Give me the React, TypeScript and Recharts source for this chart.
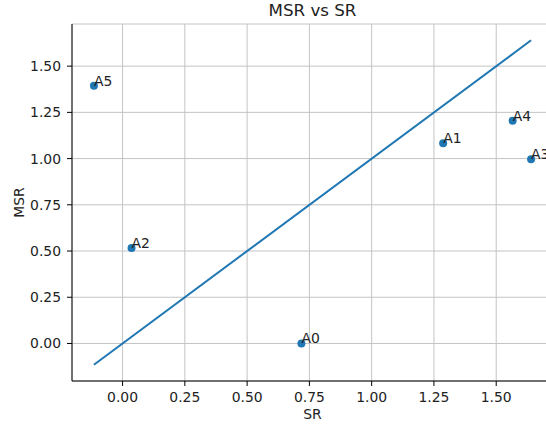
import React from 'react';
import {
  ScatterChart, Scatter, XAxis, YAxis, CartesianGrid
} from 'recharts';

const pointNames = ['A0', 'A1', 'A2', 'A3', 'A4', 'A5'];
const srValues = [0.718, 1.287, 0.036, 1.64, 1.566, -0.115];
const msrValues = [0.0, 1.083, 0.516, 0.997, 1.205, 1.394];

const lineSr = [-0.115, 1.64];
const lineMsr = [-0.115, 1.64];

const tickValues = [0, 0.25, 0.5, 0.75, 1.0, 1.25, 1.5];
const axisDomain: [number, number] = [-0.203, 1.728];

const points = pointNames.map((name, i) => ({ name, x: srValues[i], y: msrValues[i] }));
const diagonal = lineSr.map((x, i) => ({ x, y: lineMsr[i] }));

const blue = '#1f77b4';
const textColor = '#222';
const font = '"DejaVu Sans", sans-serif';

const PointWithLabel = (props: any) => {
  const { cx, cy, payload } = props;
  return (
    <g>
      <circle cx={cx} cy={cy} r={4} fill={blue} />
      <text x={cx} y={cy} fontSize={13.9} fill={textColor} fontFamily={font}>
        {payload.name}
      </text>
    </g>
  );
};

export default function App() {
  const tickStyle = { fill: textColor, fontSize: 13.9, fontFamily: font };
  return (
    <div style={{ position: 'absolute', left: 0, top: 0, width: 546, height: 427, overflow: 'hidden', background: '#fff' }}>
      <div
        style={{
          position: 'absolute', left: 72, top: 0, width: 481, lineHeight: '20px',
          textAlign: 'center', fontSize: 16.7, fontFamily: font, color: textColor
        }}
      >
        MSR vs SR
      </div>
      <ScatterChart width={553} height={427} margin={{ top: 24, right: 0, bottom: 0, left: 0 }}>
        <CartesianGrid stroke="#c4c4c4" strokeWidth={1} />
        <XAxis
          dataKey="x"
          type="number"
          domain={axisDomain}
          ticks={tickValues}
          allowDataOverflow
          height={46}
          tickSize={5}
          tickMargin={6}
          tick={tickStyle}
          tickLine={{ stroke: '#000' }}
          axisLine={{ stroke: '#000' }}
          tickFormatter={(v: number) => v.toFixed(2)}
          label={{ value: 'SR', position: 'insideBottom', offset: 8, fill: textColor, fontSize: 13.9, fontFamily: font }}
        />
        <XAxis
          xAxisId="top"
          orientation="top"
          type="number"
          domain={axisDomain}
          height={0}
          tick={false}
          tickLine={false}
          axisLine={{ stroke: '#000' }}
        />
        <YAxis
          dataKey="y"
          type="number"
          domain={axisDomain}
          ticks={tickValues}
          allowDataOverflow
          width={72}
          tickSize={5}
          tickMargin={6}
          tick={tickStyle}
          tickLine={{ stroke: '#000' }}
          axisLine={{ stroke: '#000' }}
          tickFormatter={(v: number) => v.toFixed(2)}
          label={{
            value: 'MSR', angle: -90, position: 'insideLeft', offset: 19,
            style: { textAnchor: 'middle', fill: textColor, fontSize: 13.9, fontFamily: font }
          }}
        />
        <YAxis
          yAxisId="right"
          orientation="right"
          type="number"
          domain={axisDomain}
          width={0}
          tick={false}
          tickLine={false}
          axisLine={{ stroke: '#000' }}
        />
        <Scatter
          data={diagonal}
          line={{ stroke: blue, strokeWidth: 2 }}
          shape={() => <g />}
          isAnimationActive={false}
        />
        <Scatter data={points} shape={PointWithLabel} isAnimationActive={false} />
      </ScatterChart>
    </div>
  );
}
